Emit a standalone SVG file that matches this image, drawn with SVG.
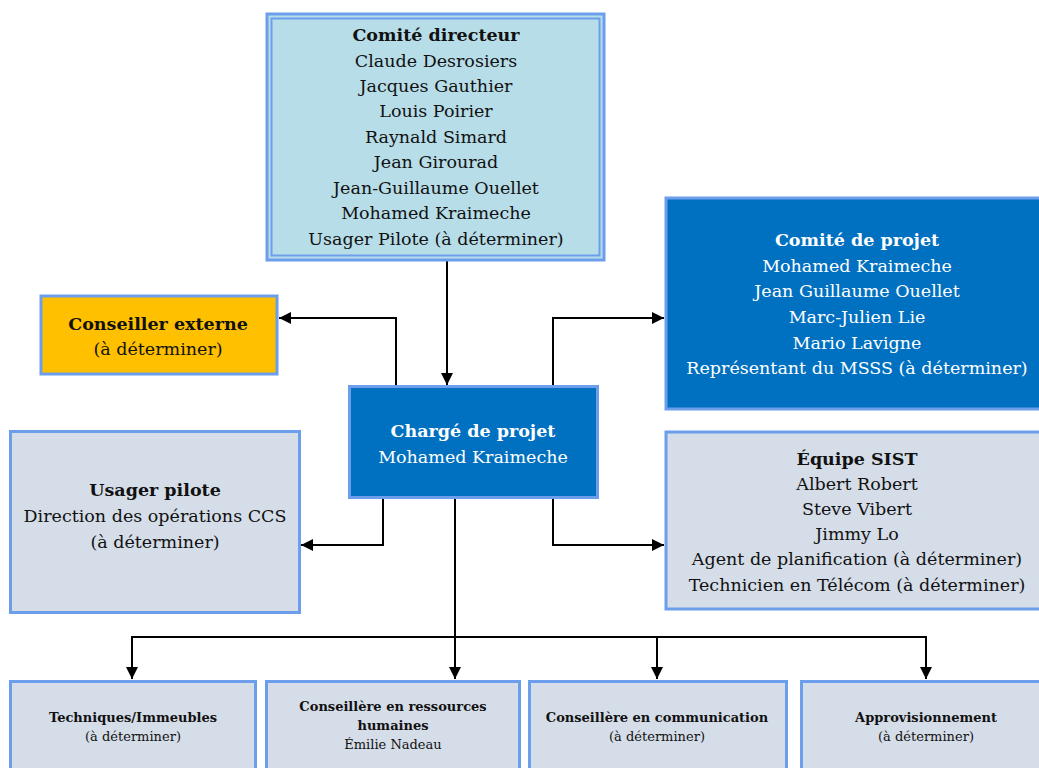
<svg xmlns="http://www.w3.org/2000/svg" width="1039" height="768" viewBox="0 0 1039 768">
<style>
text{font-family:"DejaVu Serif","Liberation Serif",serif;font-size:17.5px;text-anchor:middle;fill:#111}
.b{font-weight:bold}
.w{fill:#fff}
.s{font-size:13px}
.box{stroke:#6d9eeb;stroke-width:3}
.lb{fill:#b7dde8}
.db{fill:#0070c0}
.gy{fill:#d5dde8}
.or{fill:#ffc000}
.c{fill:none;stroke:#000;stroke-width:2}
</style>
<defs>
<marker id="ah" viewBox="0 0 12 12" refX="12" refY="6" markerWidth="12" markerHeight="12" markerUnits="userSpaceOnUse" orient="auto">
<path d="M0,0 L12,6 L0,12 Z" fill="#000"/>
</marker>
</defs>
<rect width="1039" height="768" fill="#fff"/>
<g id="connectors">
<path class="c" d="M447,261 V385" marker-end="url(#ah)"/>
<path class="c" d="M396,386 V318 H279" marker-end="url(#ah)"/>
<path class="c" d="M553,386 V318 H664" marker-end="url(#ah)"/>
<path class="c" d="M383,498 V545 H301" marker-end="url(#ah)"/>
<path class="c" d="M553,498 V545 H664" marker-end="url(#ah)"/>
<path class="c" d="M455,498 V679" marker-end="url(#ah)"/>
<path class="c" d="M132,679 V637 H926 V679" marker-end="url(#ah)"/>
<path class="c" d="M132,637 V679" marker-end="url(#ah)"/>
<path class="c" d="M657,637 V679" marker-end="url(#ah)"/>
</g>
<g id="comite-directeur">
<rect x="267" y="14" width="337" height="246" class="lb" stroke="#6d9eeb" stroke-width="3"/>
<rect x="271.5" y="18.5" width="328" height="237" fill="none" stroke="#6d9eeb" stroke-width="2"/>
<text x="436" y="41" class="b">Comité directeur</text>
<text x="436" y="67">Claude Desrosiers</text>
<text x="436" y="92">Jacques Gauthier</text>
<text x="436" y="117">Louis Poirier</text>
<text x="436" y="143">Raynald Simard</text>
<text x="436" y="168">Jean Girourad</text>
<text x="436" y="194">Jean-Guillaume Ouellet</text>
<text x="436" y="219">Mohamed Kraimeche</text>
<text x="436" y="245">Usager Pilote (à déterminer)</text>
</g>
<g id="comite-projet">
<rect x="666" y="198" width="375" height="211" class="box db"/>
<text x="857" y="246" class="b w">Comité de projet</text>
<text x="857" y="272" class="w">Mohamed Kraimeche</text>
<text x="857" y="297" class="w">Jean Guillaume Ouellet</text>
<text x="857" y="323" class="w">Marc-Julien Lie</text>
<text x="857" y="349" class="w">Mario Lavigne</text>
<text x="857" y="374" class="w">Représentant du MSSS (à déterminer)</text>
</g>
<g id="conseiller-externe">
<rect x="41" y="296" width="236" height="78" class="box or"/>
<text x="158" y="330" class="b">Conseiller externe</text>
<text x="158" y="355">(à déterminer)</text>
</g>
<g id="charge-projet">
<rect x="349.5" y="386.5" width="248" height="111" class="box db"/>
<text x="473" y="437" class="b w">Chargé de projet</text>
<text x="473" y="463" class="w">Mohamed Kraimeche</text>
</g>
<g id="usager-pilote">
<rect x="10.5" y="431.5" width="289" height="181" class="box gy"/>
<text x="155" y="496" class="b">Usager pilote</text>
<text x="155" y="522">Direction des opérations CCS</text>
<text x="155" y="548">(à déterminer)</text>
</g>
<g id="equipe-sist">
<rect x="666" y="432" width="375" height="177" class="box gy"/>
<text x="857" y="465" class="b">Équipe SIST</text>
<text x="857" y="490">Albert Robert</text>
<text x="857" y="515">Steve Vibert</text>
<text x="857" y="540">Jimmy Lo</text>
<text x="857" y="565">Agent de planification (à déterminer)</text>
<text x="857" y="591">Technicien en Télécom (à déterminer)</text>
</g>
<g id="techniques">
<rect x="10.5" y="681.5" width="245" height="100" class="box gy"/>
<text x="133" y="722" class="b s">Techniques/Immeubles</text>
<text x="133" y="741" class="s">(à déterminer)</text>
</g>
<g id="ressources-humaines">
<rect x="266.5" y="681.5" width="253" height="100" class="box gy"/>
<text x="393" y="711" class="b s">Conseillère en ressources</text>
<text x="393" y="730" class="b s">humaines</text>
<text x="393" y="749" class="s">Émilie Nadeau</text>
</g>
<g id="communication">
<rect x="529.5" y="681.5" width="257" height="100" class="box gy"/>
<text x="657" y="722" class="b s">Conseillère en communication</text>
<text x="657" y="741" class="s">(à déterminer)</text>
</g>
<g id="approvisionnement">
<rect x="801.5" y="681.5" width="245" height="100" class="box gy"/>
<text x="926" y="722" class="b s">Approvisionnement</text>
<text x="926" y="741" class="s">(à déterminer)</text>
</g>
</svg>
